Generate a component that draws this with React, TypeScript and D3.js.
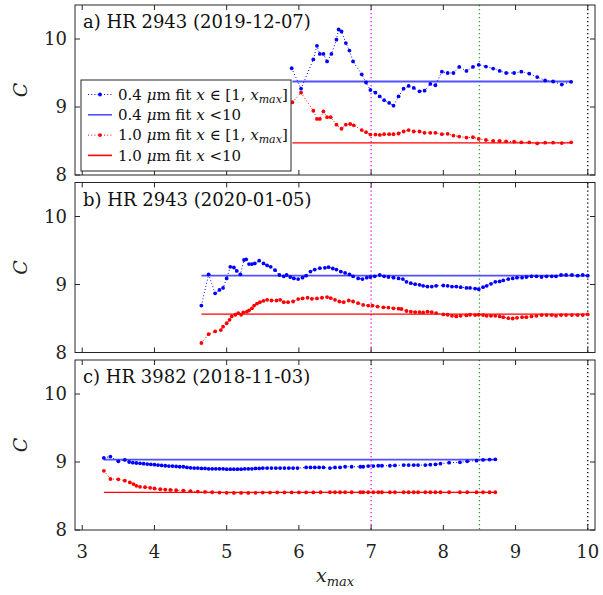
import React from 'react';
import * as d3 from 'd3';

type Pt = [number, number];

const xTicks = [3, 4, 5, 6, 7, 8, 9, 10];
const yTicks = [8, 9, 10];
const panelTitles = ['a) HR 2943 (2019-12-07)', 'b) HR 2943 (2020-01-05)', 'c) HR 3982 (2018-11-03)'];
const fitBlue = [9.375, 9.13, 9.034];
const fitRed = [8.473, 8.565, 8.553];
const fitStart = [5.91, 4.65, 3.3];
const fitEnd = [9.77, 10.0, 8.74];
const refX = [7, 8.5, 10];
const refColors = ['#ff00ff', '#2ca02c', '#000000'];

const aBlue: Pt[] = [[5.90,9.57],[6.03,9.27],[6.20,9.70],[6.25,9.90],[6.29,9.78],[6.34,9.78],[6.39,9.67],[6.45,9.78],[6.52,9.99],[6.55,10.14],[6.59,10.11],[6.65,9.94],[6.70,9.83],[6.75,9.67],[6.87,9.48],[6.93,9.36],[6.99,9.25],[7.06,9.21],[7.12,9.155],[7.18,9.10],[7.25,9.06],[7.31,9.02],[7.38,9.155],[7.45,9.27],[7.52,9.31],[7.59,9.28],[7.67,9.23],[7.74,9.24],[7.82,9.34],[7.89,9.32],[7.98,9.52],[8.06,9.50],[8.14,9.50],[8.22,9.59],[8.32,9.53],[8.41,9.59],[8.49,9.62],[8.59,9.595],[8.69,9.565],[8.78,9.53],[8.87,9.50],[8.98,9.50],[9.08,9.52],[9.19,9.49],[9.30,9.44],[9.41,9.39],[9.52,9.375],[9.64,9.33],[9.77,9.37]];
const aRed: Pt[] = [[5.91,9.07],[6.03,9.21],[6.20,8.945],[6.25,8.825],[6.29,8.825],[6.34,8.935],[6.39,8.85],[6.44,8.85],[6.52,8.74],[6.59,8.68],[6.65,8.74],[6.71,8.75],[6.76,8.73],[6.87,8.66],[6.93,8.63],[6.99,8.595],[7.06,8.595],[7.12,8.59],[7.18,8.60],[7.25,8.60],[7.31,8.60],[7.38,8.61],[7.45,8.64],[7.52,8.66],[7.59,8.64],[7.67,8.64],[7.74,8.62],[7.82,8.62],[7.89,8.62],[7.98,8.60],[8.06,8.605],[8.14,8.58],[8.22,8.565],[8.32,8.55],[8.41,8.555],[8.49,8.53],[8.59,8.515],[8.69,8.50],[8.78,8.50],[8.87,8.495],[8.98,8.49],[9.08,8.48],[9.19,8.48],[9.30,8.465],[9.41,8.475],[9.52,8.475],[9.64,8.47],[9.77,8.48]];
const bBlue: Pt[] = [[4.65,8.69],[4.75,9.15],[4.84,8.87],[4.90,8.92],[4.95,8.95],[5.00,9.09],[5.05,9.26],[5.10,9.25],[5.14,9.20],[5.19,9.15],[5.24,9.36],[5.27,9.37],[5.31,9.30],[5.35,9.30],[5.39,9.31],[5.45,9.35],[5.51,9.31],[5.56,9.28],[5.61,9.26],[5.67,9.21],[5.73,9.14],[5.79,9.12],[5.83,9.14],[5.88,9.11],[5.93,9.09],[5.99,9.08],[6.05,9.10],[6.10,9.13],[6.16,9.19],[6.22,9.22],[6.29,9.24],[6.36,9.245],[6.41,9.255],[6.47,9.235],[6.52,9.22],[6.58,9.19],[6.64,9.17],[6.70,9.15],[6.75,9.12],[6.82,9.09],[6.88,9.08],[6.94,9.10],[6.99,9.11],[7.05,9.12],[7.12,9.14],[7.18,9.12],[7.24,9.11],[7.31,9.10],[7.38,9.09],[7.44,9.08],[7.49,9.04],[7.55,9.02],[7.61,9.005],[7.67,8.995],[7.72,8.98],[7.78,8.97],[7.84,8.97],[7.90,8.98],[8.00,8.985],[8.06,8.98],[8.12,8.97],[8.18,8.97],[8.24,8.96],[8.32,8.95],[8.37,8.95],[8.44,8.94],[8.49,8.93],[8.55,8.96],[8.60,8.98],[8.66,9.01],[8.72,9.04],[8.78,9.045],[8.83,9.06],[8.90,9.08],[8.96,9.09],[9.02,9.10],[9.09,9.10],[9.15,9.11],[9.22,9.12],[9.29,9.12],[9.36,9.11],[9.43,9.12],[9.50,9.12],[9.56,9.12],[9.63,9.14],[9.70,9.14],[9.78,9.14],[9.86,9.13],[9.93,9.14],[10.0,9.13]];
const bRed: Pt[] = [[4.65,8.14],[4.75,8.27],[4.84,8.31],[4.92,8.33],[4.95,8.38],[5.00,8.43],[5.04,8.48],[5.07,8.53],[5.12,8.555],[5.16,8.58],[5.20,8.555],[5.23,8.59],[5.28,8.60],[5.31,8.62],[5.35,8.65],[5.38,8.69],[5.42,8.72],[5.46,8.74],[5.51,8.76],[5.56,8.775],[5.62,8.765],[5.69,8.765],[5.74,8.775],[5.79,8.74],[5.85,8.74],[5.92,8.75],[5.99,8.785],[6.05,8.795],[6.12,8.805],[6.18,8.79],[6.25,8.795],[6.32,8.805],[6.39,8.815],[6.44,8.80],[6.50,8.775],[6.56,8.75],[6.62,8.74],[6.69,8.765],[6.75,8.75],[6.82,8.725],[6.89,8.70],[6.96,8.69],[7.02,8.69],[7.09,8.675],[7.17,8.665],[7.24,8.66],[7.31,8.65],[7.38,8.645],[7.42,8.64],[7.49,8.61],[7.55,8.60],[7.61,8.595],[7.67,8.595],[7.72,8.59],[7.78,8.60],[7.84,8.595],[7.90,8.58],[8.00,8.56],[8.06,8.555],[8.12,8.54],[8.18,8.53],[8.24,8.54],[8.32,8.545],[8.37,8.555],[8.44,8.55],[8.49,8.555],[8.55,8.55],[8.60,8.54],[8.66,8.54],[8.72,8.54],[8.78,8.53],[8.83,8.52],[8.90,8.505],[8.96,8.50],[9.02,8.51],[9.09,8.52],[9.15,8.52],[9.22,8.53],[9.29,8.54],[9.36,8.55],[9.43,8.55],[9.50,8.55],[9.56,8.54],[9.63,8.55],[9.70,8.55],[9.78,8.55],[9.86,8.55],[9.93,8.55],[10.0,8.56]];
const cBlue: Pt[] = [[3.30,9.06],[3.39,9.08],[3.50,9.01],[3.59,9.03],[3.65,9.00],[3.70,8.99],[3.75,8.985],[3.80,8.98],[3.85,8.975],[3.90,8.97],[3.95,8.965],[4.00,8.96],[4.05,8.955],[4.10,8.95],[4.15,8.945],[4.20,8.94],[4.25,8.94],[4.30,8.935],[4.35,8.93],[4.40,8.93],[4.45,8.92],[4.50,8.915],[4.55,8.91],[4.60,8.91],[4.65,8.905],[4.70,8.905],[4.75,8.90],[4.80,8.90],[4.85,8.90],[4.90,8.90],[4.95,8.90],[5.00,8.895],[5.05,8.895],[5.10,8.895],[5.15,8.895],[5.20,8.895],[5.25,8.90],[5.30,8.90],[5.35,8.90],[5.40,8.905],[5.45,8.905],[5.50,8.91],[5.56,8.91],[5.62,8.91],[5.68,8.91],[5.74,8.91],[5.80,8.91],[5.86,8.91],[5.92,8.91],[5.98,8.91],[6.10,8.92],[6.16,8.92],[6.22,8.92],[6.28,8.92],[6.34,8.92],[6.43,8.91],[6.50,8.92],[6.57,8.92],[6.64,8.93],[6.73,8.93],[6.85,8.93],[6.89,8.93],[6.96,8.94],[7.03,8.94],[7.10,8.945],[7.15,8.945],[7.26,8.945],[7.33,8.95],[7.45,8.955],[7.52,8.955],[7.59,8.955],[7.65,8.955],[7.75,8.955],[7.82,8.96],[7.89,8.965],[7.96,8.975],[8.08,8.99],[8.23,8.995],[8.33,9.01],[8.46,9.02],[8.55,9.03],[8.64,9.035],[8.72,9.04]];
const cRed: Pt[] = [[3.30,8.87],[3.39,8.75],[3.50,8.745],[3.59,8.725],[3.66,8.70],[3.71,8.675],[3.75,8.65],[3.80,8.635],[3.87,8.63],[3.94,8.62],[4.00,8.61],[4.08,8.60],[4.15,8.595],[4.22,8.59],[4.30,8.585],[4.40,8.58],[4.50,8.57],[4.60,8.565],[4.70,8.56],[4.80,8.555],[4.90,8.55],[5.00,8.547],[5.10,8.545],[5.20,8.545],[5.30,8.545],[5.40,8.547],[5.50,8.55],[5.60,8.55],[5.70,8.552],[5.80,8.553],[5.90,8.553],[6.00,8.553],[6.10,8.553],[6.20,8.553],[6.30,8.555],[6.43,8.555],[6.50,8.555],[6.57,8.555],[6.64,8.555],[6.73,8.555],[6.85,8.555],[6.89,8.555],[6.96,8.555],[7.03,8.555],[7.10,8.555],[7.15,8.555],[7.26,8.555],[7.33,8.555],[7.45,8.555],[7.52,8.555],[7.59,8.555],[7.65,8.555],[7.75,8.555],[7.82,8.555],[7.89,8.555],[7.96,8.555],[8.08,8.555],[8.23,8.555],[8.33,8.555],[8.46,8.555],[8.55,8.555],[8.64,8.555],[8.72,8.555]];

const blueSeries = [aBlue, bBlue, cBlue];
const redSeries = [aRed, bRed, cRed];

const W = 603, H = 595;
const L = 75, R = 595;
const tops = [5, 182.5, 360];
const PH = 170;
const FONT = "'DejaVu Serif', serif";
const BLUE = '#0000ff';
const RED = '#ff0000';
const FRAME = '#262626';

const x = d3.scaleLinear().domain([2.9, 10.1]).range([L, R]);

function Panel({ i }: { i: number }) {
  const top = tops[i];
  const y = d3.scaleLinear().domain([8, 10.5]).range([top + PH, top]);
  const line = d3.line<Pt>().x(d => x(d[0])).y(d => y(d[1]));
  const bottom = top + PH;
  return (
    <g>
      {refX.map((v, k) => (
        <line key={'r' + k} x1={x(v)} x2={x(v)} y1={top} y2={bottom} stroke={refColors[k]} strokeWidth={1.3} strokeDasharray="1.3 2.7" />
      ))}
      <line x1={x(fitStart[i])} x2={x(fitEnd[i])} y1={y(fitBlue[i])} y2={y(fitBlue[i])} stroke="#5050ff" strokeWidth={1.8} />
      <line x1={x(fitStart[i])} x2={x(fitEnd[i])} y1={y(fitRed[i])} y2={y(fitRed[i])} stroke={RED} strokeWidth={1.3} />
      {[blueSeries[i], redSeries[i]].map((s, k) => (
        <g key={'s' + k}>
          <path d={line(s) || ''} fill="none" stroke={k === 0 ? BLUE : RED} strokeWidth={1} strokeDasharray="1 2.2" />
          {s.map((d, j) => (
            <circle key={j} cx={x(d[0])} cy={y(d[1])} r={1.9} fill={k === 0 ? BLUE : RED} />
          ))}
        </g>
      ))}
      {xTicks.map(t => (
        <g key={'xt' + t}>
          <line x1={x(t)} x2={x(t)} y1={bottom} y2={bottom - 5} stroke={FRAME} strokeWidth={1} />
          <line x1={x(t)} x2={x(t)} y1={top} y2={top + 5} stroke={FRAME} strokeWidth={1} />
        </g>
      ))}
      {yTicks.map(t => (
        <g key={'yt' + t}>
          <line x1={L} x2={L + 5} y1={y(t)} y2={y(t)} stroke={FRAME} strokeWidth={1} />
          <line x1={R} x2={R - 5} y1={y(t)} y2={y(t)} stroke={FRAME} strokeWidth={1} />
          <text x={L - 8} y={y(t)} dy="0.36em" textAnchor="end" fontFamily={FONT} fontSize={18} fill="#222">{t}</text>
        </g>
      ))}
      <rect x={L} y={top} width={R - L} height={PH} fill="none" stroke={FRAME} strokeWidth={1} />
      <text x={83} y={top + 23} fontFamily={FONT} fontSize={18} fill="#111">{panelTitles[i]}</text>
      <text transform={`translate(27,${top + PH / 2}) rotate(-90)`} textAnchor="middle" fontFamily={FONT} fontStyle="italic" fontSize={19} fill="#222">C</text>
      {i === 2 && xTicks.map(t => (
        <text key={'xl' + t} x={x(t)} y={bottom + 28} textAnchor="middle" fontFamily={FONT} fontSize={18} fill="#222">{t}</text>
      ))}
    </g>
  );
}

const legendRows = [
  { num: '0.4', kind: 'dots', color: BLUE, range: true },
  { num: '0.4', kind: 'line', color: '#5050ff', range: false },
  { num: '1.0', kind: 'dots', color: RED, range: true },
  { num: '1.0', kind: 'line', color: RED, range: false },
];

function Legend() {
  const lx = 81, ly = 80, lw = 210, lh = 91;
  return (
    <g>
      <rect x={lx} y={ly} width={lw} height={lh} fill="#fff" stroke={FRAME} strokeWidth={1} />
      {legendRows.map((r, k) => {
        const cy = ly + 14.5 + k * 20.3;
        return (
          <g key={k}>
            {r.kind === 'dots' ? (
              <g>
                <line x1={88} x2={112} y1={cy} y2={cy} stroke={r.color} strokeWidth={1} strokeDasharray="1 2.2" />
                <circle cx={100} cy={cy} r={1.9} fill={r.color} />
              </g>
            ) : (
              <line x1={88} x2={112} y1={cy} y2={cy} stroke={r.color} strokeWidth={1.6} />
            )}
            <text x={118} y={cy} dy="0.35em" fontFamily={FONT} fontSize={15} fill="#111">
              {r.num + ' '}
              <tspan fontStyle="italic">μ</tspan>
              {'m fit '}
              <tspan fontStyle="italic">x</tspan>
              {r.range ? ' ∈ [1, ' : ' <10'}
              {r.range && <tspan fontStyle="italic">x</tspan>}
              {r.range && <tspan fontStyle="italic" fontSize={11} dy="3">max</tspan>}
              {r.range && <tspan dy="-3">]</tspan>}
            </text>
          </g>
        );
      })}
    </g>
  );
}

export default function App() {
  return (
    <svg width={W} height={H} style={{ position: 'absolute', left: 0, top: 0, background: '#fff' }}>
      <rect x={0} y={0} width={W} height={H} fill="#fff" />
      {[0, 1, 2].map(i => <Panel key={i} i={i} />)}
      <Legend />
      <text x={(L + R) / 2} y={582} textAnchor="middle" fontFamily={FONT} fontSize={19} fill="#222">
        <tspan fontStyle="italic">x</tspan>
        <tspan fontStyle="italic" fontSize={13} dy="4">max</tspan>
      </text>
    </svg>
  );
}
